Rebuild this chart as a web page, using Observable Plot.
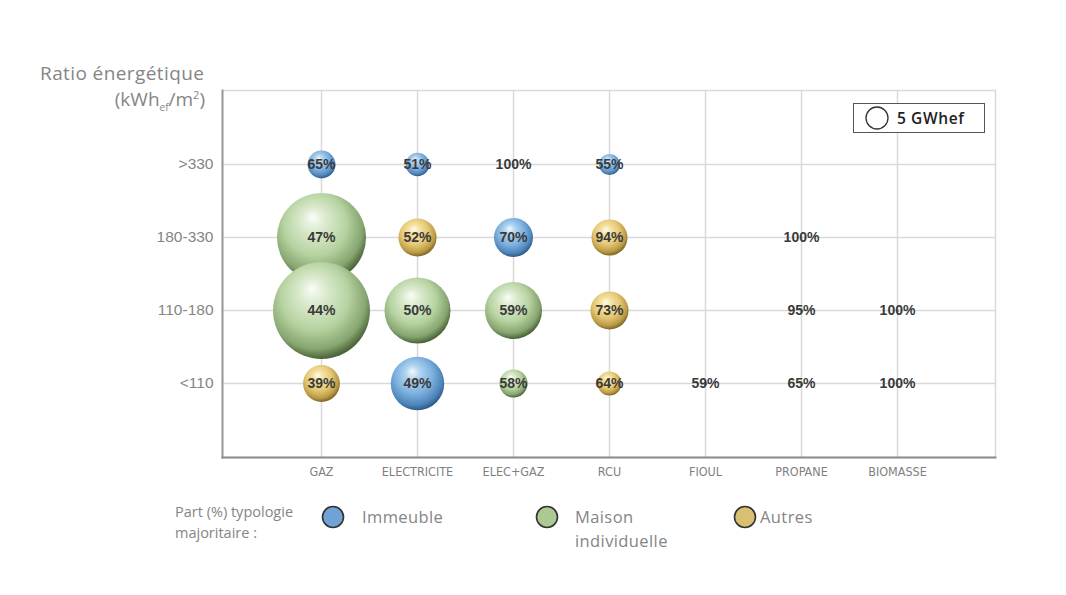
<!DOCTYPE html>
<html>
<head>
<meta charset="utf-8">
<script src="https://cdn.jsdelivr.net/npm/d3@7"></script>
<script src="https://cdn.jsdelivr.net/npm/@observablehq/plot@0.6"></script>
<style>
  html, body { margin: 0; padding: 0; background: #fff; }
  #wrap { position: relative; width: 1066px; height: 595px; overflow: hidden; font-family: "Open Sans", "Liberation Sans", sans-serif; }
  #wrap svg.plot { position: absolute; left: 0; top: 0; }
  .abs { position: absolute; white-space: nowrap; color: #858585; }
</style>
</head>
<body>
<div id="wrap"></div>
<script>
// ---- Data ----
const fuels = ["GAZ", "ELECTRICITE", "ELEC+GAZ", "RCU", "FIOUL", "PROPANE", "BIOMASSE"];
const levels = [">330", "180-330", "110-180", "<110"];
const typologies = ["Immeuble", "Maison individuelle", "Autres"];

// one entry per bubble
const bubbleFuel  = ["GAZ", "ELECTRICITE", "ELEC+GAZ", "RCU",
                     "GAZ", "ELECTRICITE", "ELEC+GAZ", "RCU", "PROPANE",
                     "GAZ", "ELECTRICITE", "ELEC+GAZ", "RCU", "PROPANE", "BIOMASSE",
                     "GAZ", "ELECTRICITE", "ELEC+GAZ", "RCU", "FIOUL", "PROPANE", "BIOMASSE"];
const bubbleLevel = [">330", ">330", ">330", ">330",
                     "180-330", "180-330", "180-330", "180-330", "180-330",
                     "110-180", "110-180", "110-180", "110-180", "110-180", "110-180",
                     "<110", "<110", "<110", "<110", "<110", "<110", "<110"];
const energyGWh   = [8, 5.7, 0.08, 4.6,
                     82, 15, 15.7, 13.4, 0.03,
                     97, 45, 33.6, 15, 0.15, 0.1,
                     14, 29.5, 8.1, 6, 0.15, 0.15, 0.03];
const sharePct    = [65, 51, 100, 55,
                     47, 52, 70, 94, 100,
                     44, 50, 59, 73, 95, 100,
                     39, 49, 58, 64, 59, 65, 100];
const typology    = ["Immeuble", "Immeuble", "Immeuble", "Immeuble",
                     "Maison individuelle", "Autres", "Immeuble", "Autres", "Maison individuelle",
                     "Maison individuelle", "Maison individuelle", "Maison individuelle", "Autres", "Maison individuelle", "Immeuble",
                     "Autres", "Immeuble", "Maison individuelle", "Autres", "Immeuble", "Maison individuelle", "Maison individuelle"];
const legendGWh = 5;

const bubbles = bubbleFuel.map((f, i) => ({
  fuel: f, level: bubbleLevel[i], energy: energyGWh[i], share: sharePct[i], type: typology[i]
}));

const gradIds = ["gBlue", "gGreen", "gYellow"];
const flatColors = ["#6fa3d6", "#acc994", "#d9bf70"];

const chart = Plot.plot({
  width: 1066,
  height: 595,
  marginLeft: 222,
  marginRight: 71,
  marginTop: 90,
  marginBottom: 138,
  style: { background: "transparent", overflow: "visible" },
  x: { type: "point", domain: fuels, padding: 1, label: null },
  y: { type: "point", domain: levels, padding: 1, label: null },
  r: { type: "sqrt", domain: [0, legendGWh], range: [0, 11], clamp: false },
  color: { type: "ordinal", domain: typologies, range: gradIds.map(id => `url(#${id})`) },
  marks: [
    Plot.gridX({ stroke: "#d9d9d9", strokeOpacity: 1, strokeWidth: 1.5 }),
    Plot.gridY({ stroke: "#d9d9d9", strokeOpacity: 1, strokeWidth: 1.5 }),
    Plot.frame({ stroke: "#d9d9d9", strokeWidth: 1.5 }),
    Plot.frame({ anchor: "left", stroke: "#9a9a9a", strokeWidth: 2 }),
    Plot.frame({ anchor: "bottom", stroke: "#8c8c8c", strokeWidth: 2 }),
    Plot.axisX({ tickSize: 0, tickPadding: 10, fontSize: 12.5, fill: "#7f7f7f",
                 fontFamily: "'Liberation Sans Narrow', 'DejaVu Sans Condensed', 'Roboto', sans-serif" }),
    Plot.axisY({ tickSize: 0, tickPadding: 9, fontSize: 15.5, fill: "#858585",
                 fontFamily: "'Liberation Sans', sans-serif" }),
    Plot.dot(bubbles, { x: "fuel", y: "level", r: "energy", fill: "type", stroke: null, sort: null }),
    Plot.text(bubbles, { x: "fuel", y: "level", text: d => `${d.share}%`, fontSize: 14, fontWeight: "bold",
                         fill: "#3a3a3a", fontFamily: "'Liberation Sans', sans-serif" })
  ]
});
chart.classList.add("plot");

// spherical gradients
const svg = d3.select(chart);
const defs = svg.insert("defs", ":first-child");
const grads = [
  { id: "gBlue",   stops: ["#f2f8fe", "#b3d4f0", "#7db1df", "#4f86bb", "#2f5b88"] },
  { id: "gGreen",  stops: ["#fbfdf8", "#dcebd0", "#b7d3a1", "#86a56f", "#4a6339"] },
  { id: "gYellow", stops: ["#fffbea", "#f5e3a6", "#e5c874", "#bb9a45", "#7f6526"] }
];
for (const g of grads) {
  const rg = defs.append("radialGradient").attr("id", g.id)
    .attr("cx", "45%").attr("cy", "40%").attr("r", "60%").attr("fx", "40%").attr("fy", "27%");
  const offs = ["0%", "22%", "58%", "86%", "100%"];
  g.stops.forEach((c, i) => rg.append("stop").attr("offset", offs[i]).attr("stop-color", c));
}

const wrap = document.getElementById("wrap");
wrap.appendChild(chart);

// title
const t1 = document.createElement("div");
t1.className = "abs";
t1.style.cssText = "left:40px; top:60px; font-size:19px; letter-spacing:0.4px;";
t1.textContent = "Ratio énergétique";
wrap.appendChild(t1);
const t2 = document.createElement("div");
t2.className = "abs";
t2.style.cssText = "right:861px; top:86px; font-size:19px;";
t2.innerHTML = "(kWh<sub style='font-size:10px'>ef</sub>/m<sup style='font-size:11px'>2</sup>)";
wrap.appendChild(t2);

// size legend box (inside the plot, top-right)
const rLeg = chart.scale("r").apply(legendGWh);
const box = document.createElement("div");
box.className = "abs";
box.style.cssText = "left:853px; top:103px; width:130px; height:28px; border:1.5px solid #555; background:#fff; color:#222; font-size:15.5px; font-weight:600;";
box.innerHTML = `<svg width="30" height="28" style="position:absolute;left:6px;top:0"><circle cx="17" cy="14" r="${rLeg}" fill="#fff" stroke="#333" stroke-width="1.3"/></svg><span style="position:absolute;left:43px;top:3px;letter-spacing:0.6px;">${legendGWh} GWhef</span>`;
wrap.appendChild(box);

// typology legend
const lg = document.createElement("div");
lg.className = "abs";
lg.style.cssText = "left:175px; top:501px; font-size:14.5px; line-height:21px;";
lg.innerHTML = "Part (%) typologie<br>majoritaire :";
wrap.appendChild(lg);
const legItems = [
  { x: 333, label: "Immeuble", tx: 362 },
  { x: 547, label: "Maison<br>individuelle", tx: 575 },
  { x: 745, label: "Autres", tx: 760 }
];
legItems.forEach((it, i) => {
  const c = document.createElement("div");
  c.className = "abs";
  c.style.cssText = `left:${it.x - 12}px; top:505px;`;
  c.innerHTML = `<svg width="24" height="24"><circle cx="12" cy="12" r="10.5" fill="${flatColors[i]}" stroke="#333" stroke-width="1.6"/></svg>`;
  wrap.appendChild(c);
  const l = document.createElement("div");
  l.className = "abs";
  l.style.cssText = `left:${it.tx}px; top:505px; font-size:16.5px; line-height:24px; letter-spacing:0.4px;`;
  l.innerHTML = it.label;
  wrap.appendChild(l);
});
</script>
</body>
</html>
